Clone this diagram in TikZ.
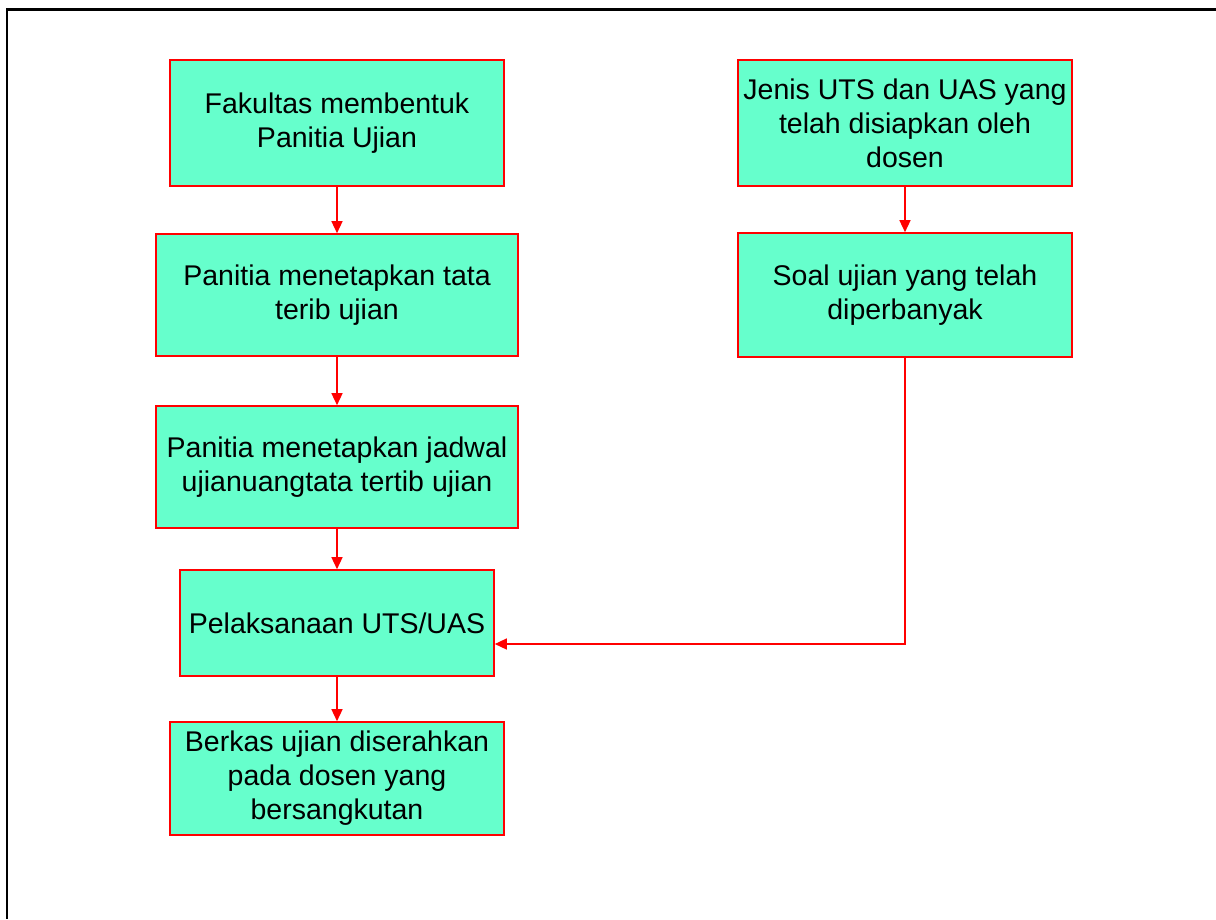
\documentclass[tikz,border=0pt]{standalone}
\usepackage{fontspec}
\setmainfont{Liberation Sans}
\usetikzlibrary{arrows.meta}
\definecolor{boxfill}{RGB}{102,255,204}
\definecolor{linered}{RGB}{255,0,0}
\begin{document}
\begin{tikzpicture}[x=1pt,y=-1pt,
  flowbox/.style={draw=linered,fill=boxfill,line width=1.6pt,inner sep=0pt,align=center,
    font=\fontsize{28.5}{34}\selectfont},
  conn/.style={draw=linered,line width=1.4pt,-{Triangle[length=12pt,width=11pt]}}]
\useasboundingbox (0,0) rectangle (1216,919);
\draw[line width=2.2pt,black] (1216,9.5) -- (7,9.5) -- (7,919);
\node[flowbox,minimum width=334pt,minimum height=126pt] (a) at (337,123) {Fakultas membentuk\\Panitia Ujian};
\node[flowbox,minimum width=362pt,minimum height=122pt] (b) at (337,295) {Panitia menetapkan tata\\terib ujian};
\node[flowbox,minimum width=362pt,minimum height=122pt] (c) at (337,467) {Panitia menetapkan jadwal\\ujianuangtata tertib ujian};
\node[flowbox,minimum width=314pt,minimum height=106pt] (d) at (337,623) {Pelaksanaan UTS/UAS};
\node[flowbox,minimum width=334pt,minimum height=113pt] (e) at (337,778.5) {Berkas ujian diserahkan\\pada dosen yang\\bersangkutan};
\node[flowbox,minimum width=334pt,minimum height=126pt] (f) at (905,123) {Jenis UTS dan UAS yang\\telah disiapkan oleh\\dosen};
\node[flowbox,minimum width=334pt,minimum height=124pt] (g) at (905,295) {Soal ujian yang telah\\diperbanyak};
\draw[conn] (a) -- (b);
\draw[conn] (b) -- (c);
\draw[conn] (c) -- (d);
\draw[conn] (d) -- (e);
\draw[conn] (f) -- (g);
\coordinate (turn) at (905,644);
\draw[conn] (g.south) -- (turn) -- (d.east |- turn);
\end{tikzpicture}
\end{document}
